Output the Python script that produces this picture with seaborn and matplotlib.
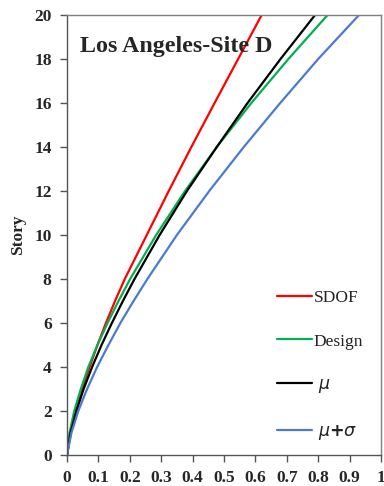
import numpy as np
import pandas as pd
import matplotlib
matplotlib.use("Agg")
import matplotlib.pyplot as plt
import seaborn as sns

stories = [0, 1, 2, 3, 4, 5, 6, 7, 8, 10, 12, 14, 16, 18, 20]
sdof   = [0, 0.012, 0.028, 0.048, 0.072, 0.097, 0.124, 0.153, 0.184, 0.254, 0.324, 0.396, 0.470, 0.545, 0.62]
design = [0, 0.008, 0.023, 0.044, 0.068, 0.097, 0.129, 0.164, 0.201, 0.284, 0.376, 0.477, 0.587, 0.705, 0.83]
mu     = [0, 0.011, 0.030, 0.053, 0.080, 0.110, 0.143, 0.178, 0.215, 0.295, 0.382, 0.477, 0.575, 0.680, 0.79]
mu_sig = [0, 0.014, 0.036, 0.064, 0.096, 0.132, 0.170, 0.212, 0.256, 0.350, 0.453, 0.563, 0.679, 0.800, 0.93]

series_names = ["SDOF", "Design", r" $\mu$", r" $\mu{\mathbf{+}}\sigma$"]
series_vals = [sdof, design, mu, mu_sig]
colors = ["#FF0000", "#00B050", "#000000", "#4A7BD0"]

x_ticks = [0, 0.1, 0.2, 0.3, 0.4, 0.5, 0.6, 0.7, 0.8, 0.9, 1]
x_labels = ["0", "0.1", "0.2", "0.3", "0.4", "0.5", "0.6", "0.7", "0.8", "0.9", "1"]
y_ticks = list(range(0, 21, 2))

rows = []
for name, vals in zip(series_names, series_vals):
    for s, v in zip(stories, vals):
        rows.append({"drift": v, "story": s, "series": name})
df = pd.DataFrame(rows)

sns.set_style("ticks")
plt.rcParams["font.family"] = ["Liberation Serif", "DejaVu Serif"]
plt.rcParams["mathtext.fontset"] = "dejavusans"

fig = plt.figure(figsize=(3.84, 4.86), dpi=100)
ax = fig.add_axes([67 / 384, 1 - 455 / 486, 314 / 384, 440 / 486])

sns.lineplot(data=df, x="drift", y="story", hue="series", hue_order=series_names,
             palette=colors, estimator=None, sort=False, linewidth=1.6, ax=ax)

ax.set_xlim(0, 1)
ax.set_ylim(0, 20)
ax.set_xticks(x_ticks)
ax.set_xticklabels(x_labels)
ax.set_yticks(y_ticks)
for lab in ax.get_xticklabels() + ax.get_yticklabels():
    lab.set_fontweight("bold")
    lab.set_fontsize(12.5)
ax.tick_params(axis="both", direction="out", length=5, width=1, color="#555555")
ax.tick_params(axis="x", pad=6)
ax.tick_params(axis="y", pad=6)
ax.set_xlabel("")
ax.set_ylabel("Story", fontsize=12.5, fontweight="bold", labelpad=6)

for sp in ax.spines.values():
    sp.set_visible(True)
    sp.set_color("#7f7f7f")
    sp.set_linewidth(1)
ax.spines["left"].set_color("#555555")
ax.spines["bottom"].set_color("#555555")

ax.text(0.04, 0.928, "Los Angeles-Site D", transform=ax.transAxes,
        fontsize=17.3, fontweight="bold", ha="left", va="center")

handles, labels = ax.get_legend_handles_labels()
ax.get_legend().remove()
leg = ax.legend(handles, labels, loc="lower left", bbox_to_anchor=(0.669, 0.029),
                borderaxespad=0, frameon=False, fontsize=12.5, handlelength=2.0,
                handletextpad=0.1, labelspacing=1.6, borderpad=0)
for t in leg.get_texts():
    t.set_color("#222222")

fig.savefig("out.png", dpi=100)
